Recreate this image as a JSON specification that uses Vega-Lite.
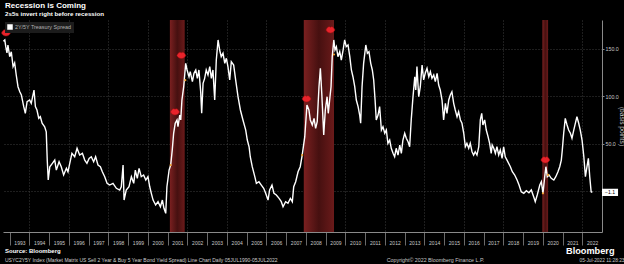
{
  "$schema": "https://vega.github.io/schema/vega-lite/v6.json",
  "background": "#000000",
  "padding": {"left": 0, "top": 1, "right": 0, "bottom": 0},
  "bounds": "flush",
  "spacing": 32,
  "title": {
    "text": "Recession is Coming",
    "subtitle": "2s5s invert right before recession",
    "anchor": "start",
    "frame": "group",
    "dx": 2,
    "fontSize": 8,
    "fontWeight": "bold",
    "color": "#ffffff",
    "subtitleFontSize": 6.2,
    "subtitleFontWeight": "bold",
    "subtitleColor": "#ffffff",
    "subtitlePadding": 1,
    "offset": 3
  },
  "datasets": {
    "spread": [
      {"t":1992.69,"v":158},{"t":1992.76,"v":159.3},{"t":1992.81,"v":152.2},{"t":1992.87,"v":145.6},{"t":1992.92,"v":154},
      {"t":1993.01,"v":141.7},{"t":1993.09,"v":146.9},{"t":1993.18,"v":131.2},{"t":1993.26,"v":135.1},{"t":1993.34,"v":122.4},
      {"t":1993.43,"v":110.1},{"t":1993.52,"v":104.8},{"t":1993.60,"v":101.4},{"t":1993.72,"v":89.1},{"t":1993.80,"v":82.1},
      {"t":1993.89,"v":94.3},{"t":1994.02,"v":96.1},{"t":1994.10,"v":92.6},{"t":1994.24,"v":106.6},{"t":1994.31,"v":89.1},
      {"t":1994.39,"v":85.6},{"t":1994.48,"v":76.8},{"t":1994.56,"v":78.5},{"t":1994.65,"v":71.6},{"t":1994.78,"v":68},
      {"t":1994.86,"v":62.7},{"t":1994.91,"v":32.9},{"t":1994.96,"v":11.9},{"t":1995.04,"v":25.9},{"t":1995.17,"v":29.5},
      {"t":1995.29,"v":32.9},{"t":1995.37,"v":22.4},{"t":1995.51,"v":31.2},{"t":1995.62,"v":25.9},{"t":1995.74,"v":17.2},
      {"t":1995.88,"v":24.2},{"t":1995.96,"v":20.6},{"t":1996.05,"v":29.5},{"t":1996.16,"v":40},{"t":1996.30,"v":36.4},
      {"t":1996.42,"v":45.3},{"t":1996.55,"v":38.2},{"t":1996.69,"v":40},{"t":1996.81,"v":32.9},{"t":1996.92,"v":29.5},
      {"t":1997.03,"v":34.7},{"t":1997.14,"v":36.4},{"t":1997.26,"v":31.2},{"t":1997.36,"v":36.4},{"t":1997.48,"v":27.7},
      {"t":1997.60,"v":25.9},{"t":1997.70,"v":20.6},{"t":1997.82,"v":15.4},{"t":1997.94,"v":8.4},{"t":1998.07,"v":6.6},
      {"t":1998.24,"v":8.4},{"t":1998.41,"v":3.2},{"t":1998.58,"v":1.4},{"t":1998.66,"v":4.8},{"t":1998.75,"v":27.7},
      {"t":1998.80,"v":-9.2},{"t":1998.91,"v":1.4},{"t":1999.05,"v":4.8},{"t":1999.17,"v":15.4},{"t":1999.29,"v":8.4},
      {"t":1999.37,"v":22.4},{"t":1999.47,"v":13.7},{"t":1999.56,"v":24.2},{"t":1999.67,"v":15.4},{"t":1999.79,"v":17.2},
      {"t":1999.90,"v":11.9},{"t":2000.01,"v":15.4},{"t":2000.10,"v":4.8},{"t":2000.18,"v":-2.1},{"t":2000.27,"v":-9.2},
      {"t":2000.40,"v":-14.4},{"t":2000.52,"v":-10.9},{"t":2000.64,"v":-16.2},{"t":2000.74,"v":-9.2},{"t":2000.82,"v":-17.9},
      {"t":2000.91,"v":-23.2},{"t":2000.97,"v":4.8},{"t":2001.08,"v":22.4},{"t":2001.16,"v":27.7},{"t":2001.24,"v":43.5},
      {"t":2001.31,"v":61.1},{"t":2001.39,"v":71.6},{"t":2001.48,"v":75.1},{"t":2001.53,"v":68},{"t":2001.62,"v":80.3},
      {"t":2001.67,"v":75.1},{"t":2001.73,"v":96.1},{"t":2001.82,"v":110.1},{"t":2001.92,"v":134.7},{"t":2001.99,"v":127.7},
      {"t":2002.09,"v":120.6},{"t":2002.15,"v":125.9},{"t":2002.26,"v":115.4},{"t":2002.34,"v":124.2},{"t":2002.43,"v":127.7},
      {"t":2002.51,"v":118.9},{"t":2002.59,"v":127.7},{"t":2002.68,"v":104.8},{"t":2002.73,"v":82.1},{"t":2002.80,"v":113.7},
      {"t":2002.88,"v":118.9},{"t":2002.96,"v":127.7},{"t":2003.05,"v":122.4},{"t":2003.14,"v":131.2},{"t":2003.22,"v":118.9},
      {"t":2003.30,"v":127.7},{"t":2003.39,"v":96.1},{"t":2003.47,"v":138.2},{"t":2003.56,"v":159.3},{"t":2003.64,"v":148.7},
      {"t":2003.72,"v":141.7},{"t":2003.81,"v":145.3},{"t":2003.90,"v":134.7},{"t":2003.98,"v":140},{"t":2004.06,"v":131.2},
      {"t":2004.15,"v":117.2},{"t":2004.23,"v":136.4},{"t":2004.35,"v":132.9},{"t":2004.45,"v":117.2},{"t":2004.57,"v":99.6},
      {"t":2004.69,"v":85.6},{"t":2004.82,"v":75.1},{"t":2004.96,"v":64.5},{"t":2005.04,"v":54},{"t":2005.13,"v":46.9},
      {"t":2005.19,"v":36.4},{"t":2005.29,"v":25.9},{"t":2005.42,"v":15.4},{"t":2005.50,"v":8.4},{"t":2005.63,"v":10.1},
      {"t":2005.75,"v":6.6},{"t":2005.87,"v":3.2},{"t":2005.97,"v":-2.1},{"t":2006.09,"v":-9.2},{"t":2006.17,"v":1.4},
      {"t":2006.29,"v":6.6},{"t":2006.39,"v":-2.1},{"t":2006.51,"v":-3.9},{"t":2006.65,"v":-7.4},{"t":2006.76,"v":-10.9},
      {"t":2006.85,"v":-16.2},{"t":2006.98,"v":-10.9},{"t":2007.10,"v":-12.6},{"t":2007.22,"v":-7.4},{"t":2007.32,"v":-10.9},
      {"t":2007.39,"v":4.8},{"t":2007.49,"v":10.1},{"t":2007.61,"v":20.6},{"t":2007.72,"v":25.9},{"t":2007.82,"v":38.2},
      {"t":2007.95,"v":57.5},{"t":2008.06,"v":90.8},{"t":2008.16,"v":85.6},{"t":2008.23,"v":75.1},{"t":2008.33,"v":69.8},
      {"t":2008.42,"v":76.8},{"t":2008.50,"v":66.3},{"t":2008.58,"v":73.3},{"t":2008.67,"v":110.1},{"t":2008.74,"v":129.5},
      {"t":2008.81,"v":103.2},{"t":2008.91,"v":59.3},{"t":2008.99,"v":85.6},{"t":2009.08,"v":99.6},{"t":2009.14,"v":82.1},
      {"t":2009.21,"v":96.1},{"t":2009.28,"v":110.1},{"t":2009.34,"v":141.7},{"t":2009.42,"v":159.3},{"t":2009.48,"v":148.7},
      {"t":2009.55,"v":152.2},{"t":2009.63,"v":141.7},{"t":2009.72,"v":146.9},{"t":2009.80,"v":138.2},{"t":2009.89,"v":148.7},
      {"t":2009.97,"v":159.3},{"t":2010.05,"v":152.2},{"t":2010.14,"v":154},{"t":2010.23,"v":141.7},{"t":2010.31,"v":127.7},
      {"t":2010.39,"v":120.6},{"t":2010.48,"v":110.1},{"t":2010.56,"v":96.1},{"t":2010.65,"v":89.1},{"t":2010.73,"v":80.3},
      {"t":2010.78,"v":71.6},{"t":2010.85,"v":110.1},{"t":2010.93,"v":134.7},{"t":2011.04,"v":154},{"t":2011.12,"v":145.3},
      {"t":2011.20,"v":146.9},{"t":2011.29,"v":134.7},{"t":2011.37,"v":127.7},{"t":2011.44,"v":117.2},{"t":2011.51,"v":96.1},
      {"t":2011.57,"v":75.1},{"t":2011.66,"v":80.3},{"t":2011.74,"v":89.1},{"t":2011.83,"v":64.5},{"t":2011.91,"v":68},
      {"t":2012.00,"v":61.1},{"t":2012.08,"v":64.5},{"t":2012.16,"v":50.5},{"t":2012.25,"v":54},{"t":2012.33,"v":45.3},
      {"t":2012.42,"v":40},{"t":2012.50,"v":36.4},{"t":2012.58,"v":45.3},{"t":2012.67,"v":38.2},{"t":2012.76,"v":48.7},
      {"t":2012.84,"v":40},{"t":2012.92,"v":54},{"t":2013.01,"v":61.1},{"t":2013.09,"v":55.8},{"t":2013.18,"v":52.2},
      {"t":2013.26,"v":46.9},{"t":2013.34,"v":75.1},{"t":2013.43,"v":99.6},{"t":2013.52,"v":120.6},{"t":2013.57,"v":106.6},
      {"t":2013.63,"v":131.2},{"t":2013.72,"v":99.6},{"t":2013.80,"v":110.1},{"t":2013.89,"v":132.9},{"t":2013.97,"v":117.2},
      {"t":2014.05,"v":124.2},{"t":2014.14,"v":129.5},{"t":2014.23,"v":120.6},{"t":2014.31,"v":125.9},{"t":2014.39,"v":118.9},
      {"t":2014.48,"v":122.4},{"t":2014.56,"v":115.4},{"t":2014.65,"v":124.2},{"t":2014.73,"v":111.9},{"t":2014.81,"v":106.6},
      {"t":2014.90,"v":96.1},{"t":2014.98,"v":75.1},{"t":2015.07,"v":92.6},{"t":2015.15,"v":82.1},{"t":2015.24,"v":96.1},
      {"t":2015.32,"v":101.4},{"t":2015.40,"v":104.8},{"t":2015.49,"v":92.6},{"t":2015.57,"v":85.6},{"t":2015.66,"v":78.5},
      {"t":2015.74,"v":83.8},{"t":2015.83,"v":75.1},{"t":2015.91,"v":71.6},{"t":2016.00,"v":61.1},{"t":2016.08,"v":46.9},
      {"t":2016.16,"v":50.5},{"t":2016.25,"v":45.3},{"t":2016.33,"v":50.5},{"t":2016.42,"v":41.7},{"t":2016.50,"v":38.2},
      {"t":2016.58,"v":41.7},{"t":2016.67,"v":38.2},{"t":2016.76,"v":46.9},{"t":2016.84,"v":75.1},{"t":2016.91,"v":82.1},
      {"t":2016.97,"v":69.8},{"t":2017.06,"v":75.1},{"t":2017.14,"v":64.5},{"t":2017.23,"v":57.5},{"t":2017.31,"v":50.5},
      {"t":2017.39,"v":40},{"t":2017.44,"v":48.7},{"t":2017.52,"v":45.3},{"t":2017.60,"v":40},{"t":2017.68,"v":46.9},
      {"t":2017.77,"v":38.2},{"t":2017.85,"v":43.5},{"t":2017.94,"v":34.7},{"t":2018.02,"v":46.9},{"t":2018.10,"v":36.4},
      {"t":2018.19,"v":32.9},{"t":2018.36,"v":25.9},{"t":2018.46,"v":20.6},{"t":2018.58,"v":17.2},{"t":2018.70,"v":11.9},
      {"t":2018.80,"v":6.6},{"t":2018.91,"v":-0.4},{"t":2019.04,"v":-2.1},{"t":2019.17,"v":0.6},{"t":2019.30,"v":-1.5},
      {"t":2019.42,"v":1.4},{"t":2019.54,"v":-5.7},{"t":2019.62,"v":-10.9},{"t":2019.72,"v":-3.9},{"t":2019.85,"v":6.6},
      {"t":2019.93,"v":10.1},{"t":2020.01,"v":-2.1},{"t":2020.10,"v":15.4},{"t":2020.16,"v":25.9},{"t":2020.23,"v":15.4},
      {"t":2020.32,"v":17.2},{"t":2020.43,"v":13.7},{"t":2020.56,"v":11.9},{"t":2020.66,"v":15.4},{"t":2020.77,"v":20.6},
      {"t":2020.86,"v":25.9},{"t":2020.94,"v":32.9},{"t":2020.99,"v":43.5},{"t":2021.06,"v":61.1},{"t":2021.14,"v":76.8},
      {"t":2021.23,"v":69.8},{"t":2021.31,"v":64.5},{"t":2021.40,"v":61.1},{"t":2021.48,"v":55.8},{"t":2021.57,"v":64.5},
      {"t":2021.65,"v":71.6},{"t":2021.73,"v":78.5},{"t":2021.82,"v":71.6},{"t":2021.90,"v":64.5},{"t":2021.99,"v":54},
      {"t":2022.08,"v":36.4},{"t":2022.16,"v":15.4},{"t":2022.24,"v":25.9},{"t":2022.31,"v":34.7},{"t":2022.38,"v":15.4},
      {"t":2022.45,"v":-0.4},{"t":2022.51,"v":-1.1}
    ],
    "recessions": [
      {"t": 2001.12, "t2": 2001.87},
      {"t": 2007.90, "t2": 2009.43},
      {"t": 2019.98, "t2": 2020.27}
    ],
    "events": [
      {"t": 1992.82, "v": 166.6},
      {"t": 2001.38, "v": 83.5},
      {"t": 2001.70, "v": 142.9},
      {"t": 2008.04, "v": 97.2},
      {"t": 2009.25, "v": 169.8},
      {"t": 2020.13, "v": 32.9}
    ],
    "dots": [
      {"t": 2001.16, "v": 27.7},
      {"t": 2001.90, "v": 117},
      {"t": 2007.82, "v": 38.2},
      {"t": 2009.43, "v": 144},
      {"t": 2020.01, "v": -2.1},
      {"t": 2020.27, "v": 17.2}
    ],
    "last": [{"t": 2022.51, "v": -1.1}],
    "footer": [{"k": 0}]
  },
  "vconcat": [
    {
      "width": 599,
      "height": 212,
      "encoding": {
        "x": {
          "field": "t", "type": "quantitative",
          "scale": {"domain": [1992.67, 2023.0], "nice": false, "zero": false},
          "axis": {
            "values": [1993,1994,1995,1996,1997,1998,1999,2000,2001,2002,2003,2004,2005,2006,2007,2008,2009,2010,2011,2012,2013,2014,2015,2016,2017,2018,2019,2020,2021,2022],
            "format": "d",
            "labelOffset": 9.9,
            "labelFlush": false,
            "labelOverlap": false,
            "labelFontSize": 5,
            "labelColor": "#c8c8c8",
            "labelPadding": -4.5,
            "tickSize": 13,
            "tickColor": "#6a6a6a",
            "domainColor": "#8a8a8a",
            "grid": true,
            "gridColor": "#3c3c3c",
            "gridDash": [1, 2],
            "gridOpacity": {"condition": {"test": "datum.value % 2 === 0", "value": 1}, "value": 0},
            "title": "Bloomberg",
            "titleFontSize": 9.2,
            "titleFontWeight": "bold",
            "titleColor": "#ffffff",
            "titleAlign": "right",
            "titleBaseline": "alphabetic",
            "titleX": 611,
            "titleY": 21
          }
        }
      },
      "layer": [
        {
          "data": {"name": "recessions"},
          "mark": {
            "type": "rect",
            "fill": {
              "gradient": "linear", "x1": 0, "x2": 1, "y1": 0, "y2": 0,
              "stops": [
                {"offset": 0, "color": "#7a2020"},
                {"offset": 0.5, "color": "#461010"},
                {"offset": 1, "color": "#6a1a1a"}
              ]
            }
          },
          "encoding": {"x2": {"field": "t2"}}
        },
        {
          "encoding": {
            "y": {
              "field": "v", "type": "quantitative",
              "scale": {"domain": [-42.8, 180.3], "nice": false, "zero": false},
              "axis": {
                "orient": "right",
                "values": [0, 50, 100, 150],
                "labelExpr": "datum.value === 0 ? '' : format(datum.value, '.1f')",
                "labelFontSize": 5.3,
                "labelColor": "#c8c8c8",
                "labelPadding": 1,
                "tickSize": 2,
                "tickColor": "#8a8a8a",
                "domainColor": "#8a8a8a",
                "grid": true,
                "gridColor": "#3c3c3c",
                "gridDash": [1, 2],
                "title": "(basis points)",
                "titleFontSize": 6.6,
                "titleFontWeight": "normal",
                "titleColor": "#c8c8c8",
                "titleAngle": 90,
                "titleAlign": "center",
                "titleBaseline": "middle",
                "titleX": 19,
                "titleY": 106
              }
            }
          },
          "layer": [
            {
              "data": {"name": "spread"},
              "mark": {"type": "line", "stroke": "#ffffff", "strokeWidth": 1.4},
              "encoding": {
                "color": {
                  "datum": "2Y/5Y Treasury Spread",
                  "type": "nominal",
                  "scale": {"range": ["#ffffff"]},
                  "legend": {
                    "title": null,
                    "orient": "top-left",
                    "offset": 2,
                    "padding": 2,
                    "fillColor": "#1c1c1c",
                    "symbolType": "square",
                    "symbolSize": 25,
                    "labelFontSize": 5.4,
                    "labelColor": "#b0b0b0",
                    "labelOffset": 2,
                    "encode": {
                      "symbols": {"update": {"fill": {"value": "#ffffff"}, "stroke": {"value": "#ffffff"}, "strokeWidth": {"value": 0.5}, "opacity": {"value": 1}}}
                    }
                  }
                }
              }
            },
            {
              "data": {"name": "dots"},
              "mark": {"type": "point", "filled": true, "color": "#f0a030", "size": 5, "opacity": 1}
            },
            {
              "data": {"name": "events"},
              "mark": {
                "type": "point", "filled": true, "fill": "#e8232b", "stroke": "#a01010", "strokeWidth": 0.5, "opacity": 1,
                "shape": "M -1 0 C -0.6 -0.9 -0.2 -0.8 0 -0.6 C 0.2 -0.8 0.6 -0.9 1 0 C 0.6 0.9 -0.6 0.9 -1 0 Z",
                "size": 80
              }
            },
            {
              "data": {"name": "last"},
              "mark": {
                "type": "point", "filled": true, "fill": "#ffffff", "stroke": "#ffffff", "opacity": 1,
                "shape": "M -1.6 -0.6 L 1.6 -0.6 L 1.6 0.6 L -1.6 0.6 Z",
                "size": 77, "xOffset": 17.7, "clip": false
              }
            },
            {
              "data": {"name": "last"},
              "mark": {"type": "text", "color": "#000000", "fontSize": 5, "align": "center", "baseline": "middle", "dx": 17.7, "clip": false},
              "encoding": {
                "text": {"field": "v", "type": "quantitative", "format": ".1f"}
              }
            }
          ]
        }
      ]
    },
    {
      "width": 620,
      "height": 1,
      "data": {"name": "footer"},
      "title": {
        "text": "Source: Bloomberg",
        "subtitle": "USYC2Y5Y Index (Market Matrix US Sell 2 Year & Buy 5 Year Bond Yield Spread) Line Chart  Daily 05JUL1990-05JUL2022",
        "anchor": "start",
        "frame": "group",
        "dx": 2,
        "fontSize": 6,
        "fontWeight": "bold",
        "color": "#ffffff",
        "subtitleFontSize": 5,
        "subtitleColor": "#d0d0d0",
        "subtitlePadding": 4,
        "offset": -6
      },
      "mark": {"type": "point", "opacity": 0},
      "encoding": {
        "x": {
          "field": "k", "type": "quantitative", "scale": {"domain": [0, 1]},
          "axis": {
            "labels": false, "ticks": false, "domain": false, "grid": false,
            "title": "Copyright© 2022 Bloomberg Finance L.P.",
            "titleFontSize": 5.3, "titleFontWeight": "normal", "titleColor": "#c8c8c8",
            "titleAlign": "center", "titleBaseline": "alphabetic",
            "titleX": 432, "titleY": -4
          }
        },
        "y": {
          "field": "k", "type": "quantitative", "scale": {"domain": [0, 1]},
          "axis": {
            "orient": "right",
            "labels": false, "ticks": false, "domain": false, "grid": false,
            "title": "05-Jul-2022 11:28:23",
            "titleAngle": 0,
            "titleFontSize": 4.8, "titleFontWeight": "normal", "titleColor": "#c8c8c8",
            "titleAlign": "right", "titleBaseline": "alphabetic",
            "titleX": 1, "titleY": -3
          }
        }
      }
    }
  ],
  "config": {
    "font": "Liberation Sans",
    "view": {"stroke": null},
    "axis": {"labelFont": "Liberation Sans", "titleFont": "Liberation Sans"},
    "legend": {"labelFont": "Liberation Sans"}
  }
}
